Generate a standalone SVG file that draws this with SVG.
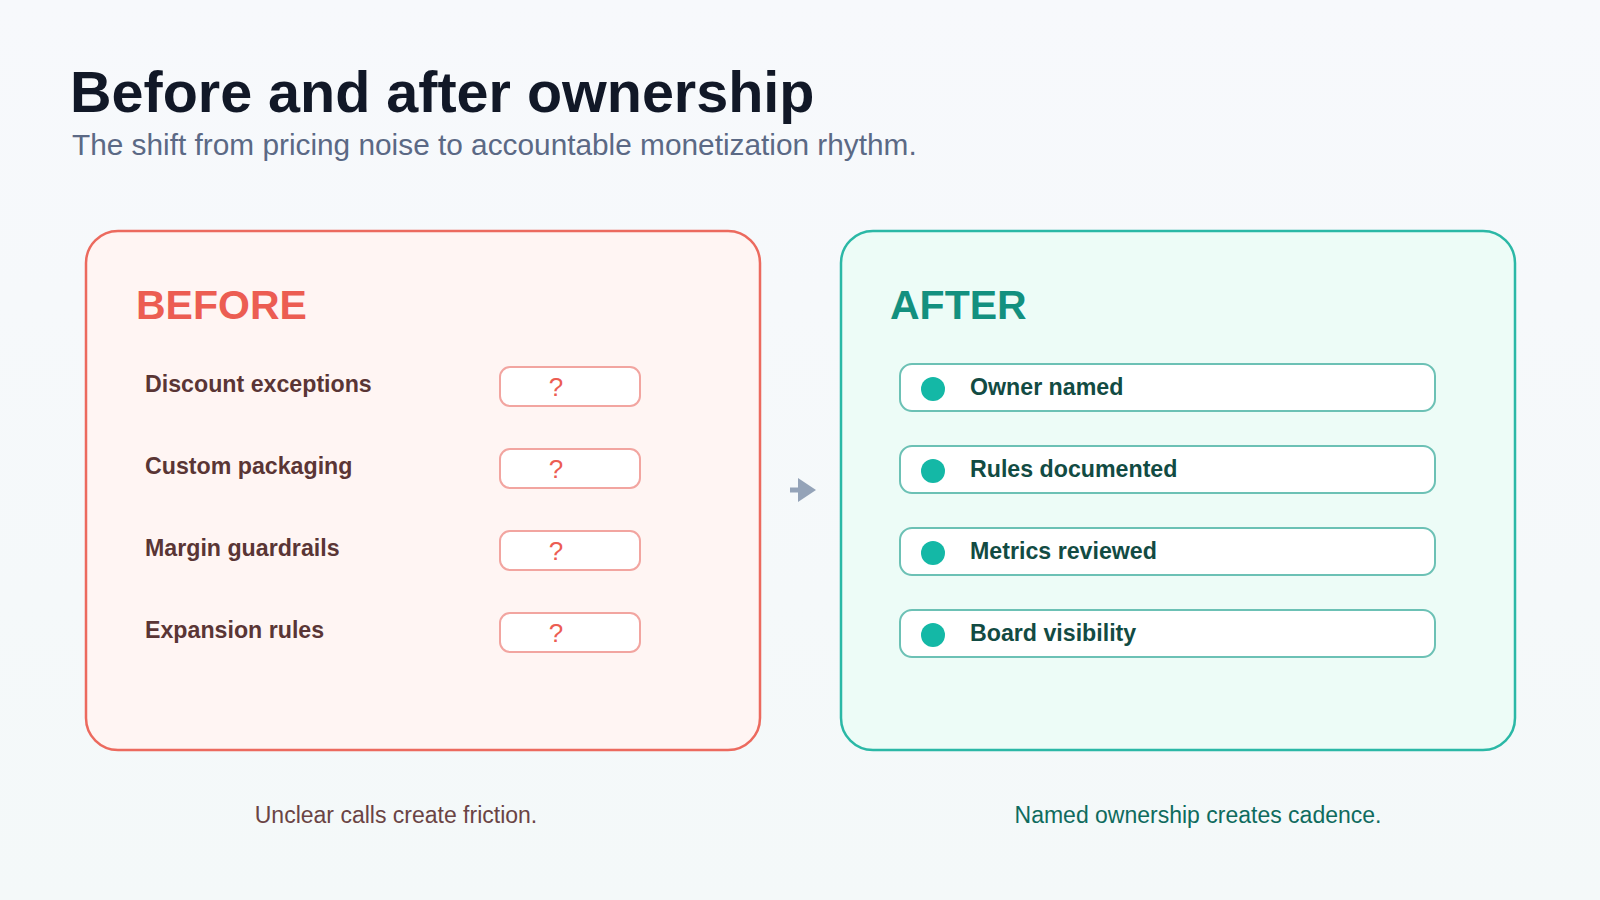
<svg xmlns="http://www.w3.org/2000/svg" width="1600" height="900" viewBox="0 0 1600 900">
<defs>
<linearGradient id="bg" x1="0" y1="0" x2="0" y2="1"><stop offset="0" stop-color="#f7f9fc"/><stop offset="1" stop-color="#f4f9f9"/></linearGradient>
</defs>
<style>
.t{font-family:"Liberation Sans",Arial,sans-serif}
.lbl{font-family:"Liberation Sans",Arial,sans-serif;font-weight:bold;font-size:23.2px;fill:#5a3535}
.q{fill:#fff;stroke:#f2a5a0;stroke-width:2}
.qm{font-family:"Liberation Sans",Arial,sans-serif;font-size:26px;fill:#ec5d52;text-anchor:middle}
.pill{fill:#fff;stroke:#6cc1b5;stroke-width:2}
.dot{fill:#14b8a6}
.al{font-family:"Liberation Sans",Arial,sans-serif;font-weight:bold;font-size:23.2px;fill:#124b43}
</style>
<rect width="1600" height="900" fill="url(#bg)"/>
<text class="t" x="70" y="112" font-size="57.5" font-weight="bold" fill="#111827">Before and after ownership</text>
<text class="t" x="72" y="155" font-size="29.8" fill="#5b6985">The shift from pricing noise to accountable monetization rhythm.</text>
<g id="before">
<rect x="86" y="231" width="674" height="519" rx="32" fill="#fff5f3" stroke="#ec6a5e" stroke-width="2.5"/>
<text class="t" x="136" y="319" font-size="41" font-weight="bold" fill="#ec5d52">BEFORE</text>
<text class="lbl" x="145" y="392">Discount exceptions</text>
<rect class="q" x="500" y="367" width="140" height="39" rx="10"/><text class="qm" x="556" y="396">?</text>
<text class="lbl" x="145" y="474">Custom packaging</text>
<rect class="q" x="500" y="449" width="140" height="39" rx="10"/><text class="qm" x="556" y="478">?</text>
<text class="lbl" x="145" y="556">Margin guardrails</text>
<rect class="q" x="500" y="531" width="140" height="39" rx="10"/><text class="qm" x="556" y="560">?</text>
<text class="lbl" x="145" y="638">Expansion rules</text>
<rect class="q" x="500" y="613" width="140" height="39" rx="10"/><text class="qm" x="556" y="642">?</text>
</g>
<g id="connectors">
<line x1="790" y1="490" x2="808" y2="490" stroke="#94a3b8" stroke-width="5"/>
<polygon points="798,478 816,490 798,502" fill="#94a3b8"/>
</g>
<g id="after">
<rect x="841" y="231" width="674" height="519" rx="32" fill="#edfcf7" stroke="#2bb8a6" stroke-width="2.5"/>
<text class="t" x="890" y="319" font-size="41" font-weight="bold" fill="#13907f">AFTER</text>
<rect class="pill" x="900" y="364" width="535" height="47" rx="12"/><circle class="dot" cx="933" cy="389" r="12"/><text class="al" x="970" y="395">Owner named</text>
<rect class="pill" x="900" y="446" width="535" height="47" rx="12"/><circle class="dot" cx="933" cy="471" r="12"/><text class="al" x="970" y="477">Rules documented</text>
<rect class="pill" x="900" y="528" width="535" height="47" rx="12"/><circle class="dot" cx="933" cy="553" r="12"/><text class="al" x="970" y="559">Metrics reviewed</text>
<rect class="pill" x="900" y="610" width="535" height="47" rx="12"/><circle class="dot" cx="933" cy="635" r="12"/><text class="al" x="970" y="641">Board visibility</text>
</g>
<text class="t" x="396" y="823" font-size="23" fill="#6a4444" text-anchor="middle">Unclear calls create friction.</text>
<text class="t" x="1198" y="823" font-size="23" fill="#0f6b5e" text-anchor="middle">Named ownership creates cadence.</text>
</svg>
